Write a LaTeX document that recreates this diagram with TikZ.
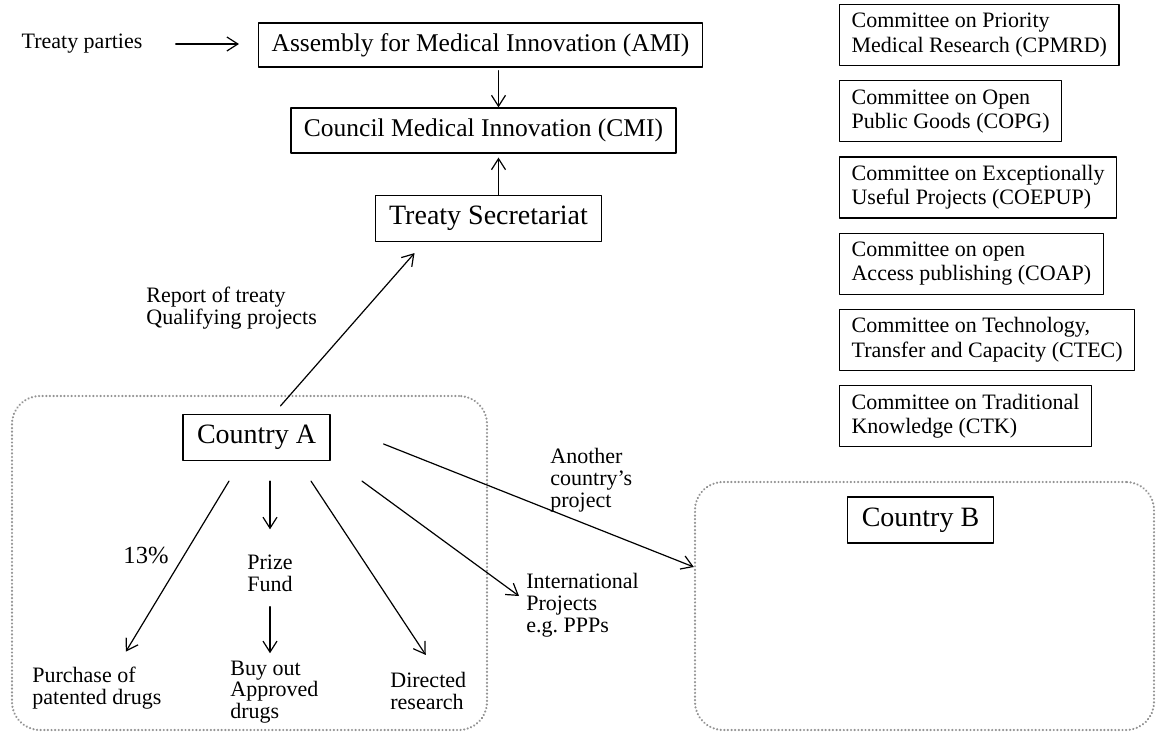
\documentclass[tikz,border=0pt]{standalone}
\usepackage{fontspec}
\setmainfont{Liberation Serif}
\usepackage{tikz}
\usetikzlibrary{arrows.meta, positioning, calc}
\tikzset{every node/.style={font=\fontsize{11}{11}\selectfont}, every path/.style={line cap=round, line join=round}, >={Straight Barb[length=5.5pt, width=7pt]}}

\begin{document}
\begin{tikzpicture}[
        x=0.5pt, y=-0.5pt,
        box/.style={draw, line width=0.6pt, inner xsep=7pt, inner ysep=0pt, minimum height=23pt, font=\fontsize{14}{16}\selectfont},
        midbox/.style={box, minimum height=22pt, inner xsep=6.5pt, font=\fontsize{12.75}{14}\selectfont},
        committee/.style={draw, line width=0.6pt, align=left, inner xsep=6pt, minimum height=30.5pt, font=\fontsize{11}{12.2}\selectfont},
        note/.style={inner sep=0pt, align=left, font=\fontsize{11}{10.9}\selectfont},
        region/.style={draw=gray!85, line width=1.2pt, dash pattern=on 0.01pt off 1.8pt, rounded corners=14pt, inner sep=0pt},
        flow/.style={->, line width=0.6pt}
    ]
    \useasboundingbox (0,0) rectangle (1156,732);

    % dotted country areas
    \node [region, minimum width=237.5pt, minimum height=167pt] (regionA) at (249.5,563) {};
    \node [region, minimum width=229.5pt, minimum height=124pt] (regionB) at (924.5,606) {};

    % treaty bodies
    \node [note] (parties) at (82,44) {Treaty parties};
    \node [midbox] (ami) at (480.5,45) {Assembly for Medical Innovation (AMI)};
    \node [midbox, minimum height=22.5pt] (cmi) at (483.5,130.5) {Council Medical Innovation (CMI)};
    \node [box] (secretariat) at (488.5,218.5) {Treaty Secretariat};
    \node [note, anchor=west] (report) at (146,308) {Report of treaty\\Qualifying projects};

    % committees
    \node [committee, anchor=north west] (cpmrd) at (839,4) {Committee on Priority\\Medical Research (CPMRD)};
    \node [committee, below=7pt of cpmrd.south west, anchor=north west] (copg) {Committee on Open\\Public Goods (COPG)};
    \node [committee, below=7pt of copg.south west, anchor=north west] (coepup) {Committee on Exceptionally\\Useful Projects (COEPUP)};
    \node [committee, below=7pt of coepup.south west, anchor=north west] (coap) {Committee on open\\Access publishing (COAP)};
    \node [committee, below=7pt of coap.south west, anchor=north west] (ctec) {Committee on Technology,\\Transfer and Capacity (CTEC)};
    \node [committee, below=7pt of ctec.south west, anchor=north west] (ctk) {Committee on Traditional\\Knowledge (CTK)};

    % country A and its funding routes
    \node [box] (countryA) at (256.5,437.5) {Country A};
    \node [note, font=\fontsize{12.3}{13}\selectfont] (pct) at (146,555) {13\%};
    \node [note, align=center] (prize) at (270,573) {Prize\\Fund};
    \node [note, anchor=west] (purchase) at (32,688) {Purchase of\\patented drugs};
    \node [note, anchor=west] (buyout) at (230,692) {Buy out\\Approved\\drugs};
    \node [note, anchor=west] (directed) at (390,691) {Directed\\research};
    \node [note, anchor=west] (intl) at (526,605) {International\\Projects\\e.g.\ PPPs};
    \node [note, anchor=west] (another) at (550,480) {Another\\country’s\\project};

    \node [box] (countryB) at (920.5,520) {Country B};

    \draw [flow, shorten <=16.5pt, shorten >=9.5pt] (parties.east) -- (parties.east -| ami.west);
    \draw [flow, shorten <=1.5pt] ([xshift=9pt]ami.south) -- ([xshift=9pt]ami.south |- cmi.north);
    \draw [flow, shorten >=2pt] ([xshift=5pt]secretariat.north) -- ([xshift=5pt]secretariat.north |- cmi.south);
    \draw [flow] ([xshift=12pt, yshift=4pt]countryA.north) -- ([xshift=-37pt, yshift=-5.5pt]secretariat.south);
    \draw [flow] ([xshift=-13.75pt, yshift=-10pt]countryA.south) -- ([xshift=14.5pt, yshift=7.5pt]purchase.north);
    \draw [flow, shorten >=12.5pt] ([yshift=-10pt]countryA.south -| prize.north) -- (prize.north);
    \draw [flow, shorten <=7.5pt, shorten >=3.5pt] (prize.south) -- (prize.south |- buyout.north);
    \draw [flow] ([xshift=27.25pt, yshift=-10pt]countryA.south) -- ([xshift=-1.25pt, yshift=8.5pt]directed.north);
    \draw [flow] ([xshift=52.75pt, yshift=-10pt]countryA.south) -- ([xshift=-3.5pt, yshift=4.5pt]intl.west);
    \draw [flow] ([xshift=26.5pt, yshift=-3.25pt]countryA.east) -- ([yshift=19.5pt]regionB.west);
\end{tikzpicture}
\end{document}
